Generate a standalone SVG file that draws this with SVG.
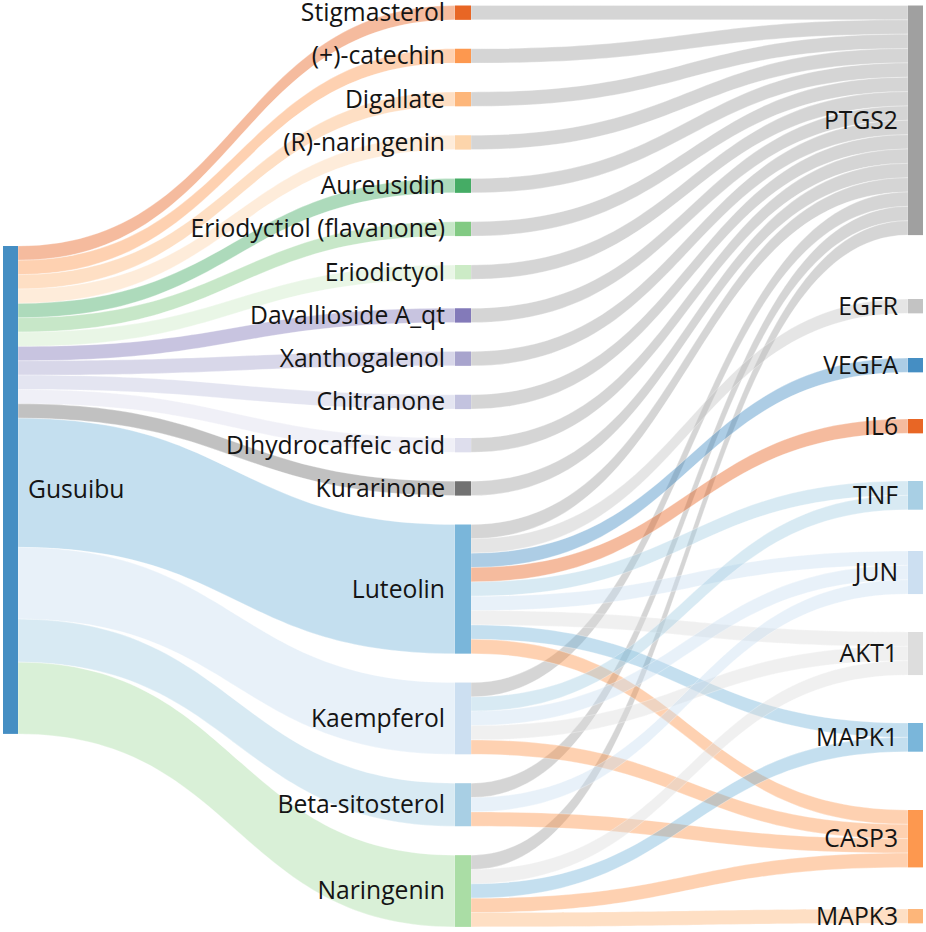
<svg xmlns="http://www.w3.org/2000/svg" width="926" height="932" viewBox="0 0 926 932">
<style>
.l{fill-opacity:.4;stroke:#fff;stroke-width:.5;stroke-opacity:.6}
.n{fill-opacity:.9}
text{font-family:"Open Sans","Noto Sans","DejaVu Sans",sans-serif;font-size:24.7px;fill:#141414}
.e{text-anchor:end}
</style>
<rect width="926" height="932" fill="#fff"/>
<g id="links">
<path class="l" fill="#e6550d" d="M18,246C236.5,246 236.5,5.5 455,5.5L455,19.85C236.5,19.85 236.5,260.35 18,260.35Z"/>
<path class="l" fill="#fd8d3c" d="M18,260.35C236.5,260.35 236.5,48.75 455,48.75L455,63.1C236.5,63.1 236.5,274.7 18,274.7Z"/>
<path class="l" fill="#fdae6b" d="M18,274.7C236.5,274.7 236.5,92 455,92L455,106.35C236.5,106.35 236.5,289.05 18,289.05Z"/>
<path class="l" fill="#fdd0a2" d="M18,289.05C236.5,289.05 236.5,135.25 455,135.25L455,149.6C236.5,149.6 236.5,303.4 18,303.4Z"/>
<path class="l" fill="#31a354" d="M18,303.4C236.5,303.4 236.5,178.5 455,178.5L455,192.85C236.5,192.85 236.5,317.75 18,317.75Z"/>
<path class="l" fill="#74c476" d="M18,317.75C236.5,317.75 236.5,221.75 455,221.75L455,236.1C236.5,236.1 236.5,332.1 18,332.1Z"/>
<path class="l" fill="#c7e9c0" d="M18,332.1C236.5,332.1 236.5,265 455,265L455,279.35C236.5,279.35 236.5,346.45 18,346.45Z"/>
<path class="l" fill="#756bb1" d="M18,346.45C236.5,346.45 236.5,308.25 455,308.25L455,322.6C236.5,322.6 236.5,360.8 18,360.8Z"/>
<path class="l" fill="#9e9ac8" d="M18,360.8C236.5,360.8 236.5,351.5 455,351.5L455,365.85C236.5,365.85 236.5,375.15 18,375.15Z"/>
<path class="l" fill="#bcbddc" d="M18,375.15C236.5,375.15 236.5,394.75 455,394.75L455,409.1C236.5,409.1 236.5,389.5 18,389.5Z"/>
<path class="l" fill="#dadaeb" d="M18,389.5C236.5,389.5 236.5,438 455,438L455,452.35C236.5,452.35 236.5,403.85 18,403.85Z"/>
<path class="l" fill="#636363" d="M18,403.85C236.5,403.85 236.5,481.25 455,481.25L455,495.6C236.5,495.6 236.5,418.2 18,418.2Z"/>
<path class="l" fill="#6baed6" d="M18,418.2C236.5,418.2 236.5,524.5 455,524.5L455,653.65C236.5,653.65 236.5,547.35 18,547.35Z"/>
<path class="l" fill="#c6dbef" d="M18,547.35C236.5,547.35 236.5,682.55 455,682.55L455,754.3C236.5,754.3 236.5,619.1 18,619.1Z"/>
<path class="l" fill="#9ecae1" d="M18,619.1C236.5,619.1 236.5,783.2 455,783.2L455,826.25C236.5,826.25 236.5,662.15 18,662.15Z"/>
<path class="l" fill="#a1d99b" d="M18,662.15C236.5,662.15 236.5,855.15 455,855.15L455,926.9C236.5,926.9 236.5,733.9 18,733.9Z"/>

<path class="l" fill="#969696" d="M471,5.5C689.5,5.5 689.5,5.5 908,5.5L908,19.85C689.5,19.85 689.5,19.85 471,19.85Z"/>
<path class="l" fill="#969696" d="M471,48.75C689.5,48.75 689.5,19.85 908,19.85L908,34.2C689.5,34.2 689.5,63.1 471,63.1Z"/>
<path class="l" fill="#969696" d="M471,92C689.5,92 689.5,34.2 908,34.2L908,48.55C689.5,48.55 689.5,106.35 471,106.35Z"/>
<path class="l" fill="#969696" d="M471,135.25C689.5,135.25 689.5,48.55 908,48.55L908,62.9C689.5,62.9 689.5,149.6 471,149.6Z"/>
<path class="l" fill="#969696" d="M471,178.5C689.5,178.5 689.5,62.9 908,62.9L908,77.25C689.5,77.25 689.5,192.85 471,192.85Z"/>
<path class="l" fill="#969696" d="M471,221.75C689.5,221.75 689.5,77.25 908,77.25L908,91.6C689.5,91.6 689.5,236.1 471,236.1Z"/>
<path class="l" fill="#969696" d="M471,265C689.5,265 689.5,91.6 908,91.6L908,105.95C689.5,105.95 689.5,279.35 471,279.35Z"/>
<path class="l" fill="#969696" d="M471,308.25C689.5,308.25 689.5,105.95 908,105.95L908,120.3C689.5,120.3 689.5,322.6 471,322.6Z"/>
<path class="l" fill="#969696" d="M471,351.5C689.5,351.5 689.5,120.3 908,120.3L908,134.65C689.5,134.65 689.5,365.85 471,365.85Z"/>
<path class="l" fill="#969696" d="M471,394.75C689.5,394.75 689.5,134.65 908,134.65L908,149C689.5,149 689.5,409.1 471,409.1Z"/>
<path class="l" fill="#969696" d="M471,438C689.5,438 689.5,149 908,149L908,163.35C689.5,163.35 689.5,452.35 471,452.35Z"/>
<path class="l" fill="#969696" d="M471,481.25C689.5,481.25 689.5,163.35 908,163.35L908,177.7C689.5,177.7 689.5,495.6 471,495.6Z"/>
<path class="l" fill="#969696" d="M471,524.5C689.5,524.5 689.5,177.7 908,177.7L908,192.05C689.5,192.05 689.5,538.85 471,538.85Z"/>
<path class="l" fill="#969696" d="M471,682.55C689.5,682.55 689.5,192.05 908,192.05L908,206.4C689.5,206.4 689.5,696.9 471,696.9Z"/>
<path class="l" fill="#969696" d="M471,783.2C689.5,783.2 689.5,206.4 908,206.4L908,220.75C689.5,220.75 689.5,797.55 471,797.55Z"/>
<path class="l" fill="#969696" d="M471,855.15C689.5,855.15 689.5,220.75 908,220.75L908,235.1C689.5,235.1 689.5,869.5 471,869.5Z"/>

<path class="l" fill="#bdbdbd" d="M471,538.85C689.5,538.85 689.5,299 908,299L908,313.35C689.5,313.35 689.5,553.2 471,553.2Z"/>
<path class="l" fill="#3182bd" d="M471,553.2C689.5,553.2 689.5,358 908,358L908,372.35C689.5,372.35 689.5,567.55 471,567.55Z"/>
<path class="l" fill="#e6550d" d="M471,567.55C689.5,567.55 689.5,419 908,419L908,433.35C689.5,433.35 689.5,581.9 471,581.9Z"/>
<path class="l" fill="#9ecae1" d="M471,581.9C689.5,581.9 689.5,481 908,481L908,495.35C689.5,495.35 689.5,596.25 471,596.25Z"/>
<path class="l" fill="#c6dbef" d="M471,596.25C689.5,596.25 689.5,551 908,551L908,565.35C689.5,565.35 689.5,610.6 471,610.6Z"/>
<path class="l" fill="#d9d9d9" d="M471,610.6C689.5,610.6 689.5,632 908,632L908,646.35C689.5,646.35 689.5,624.95 471,624.95Z"/>
<path class="l" fill="#6baed6" d="M471,624.95C689.5,624.95 689.5,723 908,723L908,737.35C689.5,737.35 689.5,639.3 471,639.3Z"/>
<path class="l" fill="#fd8d3c" d="M471,639.3C689.5,639.3 689.5,810 908,810L908,824.35C689.5,824.35 689.5,653.65 471,653.65Z"/>

<path class="l" fill="#9ecae1" d="M471,696.9C689.5,696.9 689.5,495.35 908,495.35L908,509.7C689.5,509.7 689.5,711.25 471,711.25Z"/>
<path class="l" fill="#c6dbef" d="M471,711.25C689.5,711.25 689.5,565.35 908,565.35L908,579.7C689.5,579.7 689.5,725.6 471,725.6Z"/>
<path class="l" fill="#d9d9d9" d="M471,725.6C689.5,725.6 689.5,646.35 908,646.35L908,660.7C689.5,660.7 689.5,739.95 471,739.95Z"/>
<path class="l" fill="#fd8d3c" d="M471,739.95C689.5,739.95 689.5,824.35 908,824.35L908,838.7C689.5,838.7 689.5,754.3 471,754.3Z"/>

<path class="l" fill="#c6dbef" d="M471,797.55C689.5,797.55 689.5,579.7 908,579.7L908,594.05C689.5,594.05 689.5,811.9 471,811.9Z"/>
<path class="l" fill="#fd8d3c" d="M471,811.9C689.5,811.9 689.5,838.7 908,838.7L908,853.05C689.5,853.05 689.5,826.25 471,826.25Z"/>

<path class="l" fill="#d9d9d9" d="M471,869.5C689.5,869.5 689.5,660.7 908,660.7L908,675.05C689.5,675.05 689.5,883.85 471,883.85Z"/>
<path class="l" fill="#6baed6" d="M471,883.85C689.5,883.85 689.5,737.35 908,737.35L908,751.7C689.5,751.7 689.5,898.2 471,898.2Z"/>
<path class="l" fill="#fd8d3c" d="M471,898.2C689.5,898.2 689.5,853.05 908,853.05L908,867.4C689.5,867.4 689.5,912.55 471,912.55Z"/>
<path class="l" fill="#fdae6b" d="M471,912.55C689.5,912.55 689.5,909 908,909L908,923.35C689.5,923.35 689.5,926.9 471,926.9Z"/>
</g>

<g id="n-gusuibu"><rect class="n" x="3" y="246" width="15" height="487.9" fill="#3182bd"/><text x="28" y="498.4">Gusuibu</text></g>

<g id="n-stigmasterol"><rect class="n" x="455" y="5.5" width="16" height="14.35" fill="#e6550d"/><text class="e" x="445" y="21.1">Stigmasterol</text></g>
<g id="n-catechin"><rect class="n" x="455" y="48.75" width="16" height="14.35" fill="#fd8d3c"/><text class="e" x="445" y="64.3">(+)-catechin</text></g>
<g id="n-digallate"><rect class="n" x="455" y="92" width="16" height="14.35" fill="#fdae6b"/><text class="e" x="445" y="107.6">Digallate</text></g>
<g id="n-rnaringenin"><rect class="n" x="455" y="135.25" width="16" height="14.35" fill="#fdd0a2"/><text class="e" x="445" y="150.8">(R)-naringenin</text></g>
<g id="n-aureusidin"><rect class="n" x="455" y="178.5" width="16" height="14.35" fill="#31a354"/><text class="e" x="445" y="194.1">Aureusidin</text></g>
<g id="n-eriodyctiol"><rect class="n" x="455" y="221.75" width="16" height="14.35" fill="#74c476"/><text class="e" x="445" y="237.3">Eriodyctiol (flavanone)</text></g>
<g id="n-eriodictyol"><rect class="n" x="455" y="265" width="16" height="14.35" fill="#c7e9c0"/><text class="e" x="445" y="280.6">Eriodictyol</text></g>
<g id="n-davallioside"><rect class="n" x="455" y="308.25" width="16" height="14.35" fill="#756bb1"/><text class="e" x="445" y="323.8">Davallioside A_qt</text></g>
<g id="n-xanthogalenol"><rect class="n" x="455" y="351.5" width="16" height="14.35" fill="#9e9ac8"/><text class="e" x="445" y="367.1">Xanthogalenol</text></g>
<g id="n-chitranone"><rect class="n" x="455" y="394.75" width="16" height="14.35" fill="#bcbddc"/><text class="e" x="445" y="410.3">Chitranone</text></g>
<g id="n-dihydrocaffeic"><rect class="n" x="455" y="438" width="16" height="14.35" fill="#dadaeb"/><text class="e" x="445" y="453.6">Dihydrocaffeic acid</text></g>
<g id="n-kurarinone"><rect class="n" x="455" y="481.25" width="16" height="14.35" fill="#636363"/><text class="e" x="445" y="496.8">Kurarinone</text></g>
<g id="n-luteolin"><rect class="n" x="455" y="524.5" width="16" height="129.15" fill="#6baed6"/><text class="e" x="445" y="597.5">Luteolin</text></g>
<g id="n-kaempferol"><rect class="n" x="455" y="682.55" width="16" height="71.75" fill="#c6dbef"/><text class="e" x="445" y="726.8">Kaempferol</text></g>
<g id="n-betasitosterol"><rect class="n" x="455" y="783.2" width="16" height="43.05" fill="#9ecae1"/><text class="e" x="445" y="813.1">Beta-sitosterol</text></g>
<g id="n-naringenin"><rect class="n" x="455" y="855.15" width="16" height="71.75" fill="#a1d99b"/><text class="e" x="445" y="899.4">Naringenin</text></g>

<g id="n-ptgs2"><rect class="n" x="908" y="5.5" width="15" height="229.6" fill="#969696"/><text class="e" x="898" y="128.7">PTGS2</text></g>
<g id="n-egfr"><rect class="n" x="908" y="299" width="15" height="14.35" fill="#bdbdbd"/><text class="e" x="898" y="314.6">EGFR</text></g>
<g id="n-vegfa"><rect class="n" x="908" y="358" width="15" height="14.35" fill="#3182bd"/><text class="e" x="898" y="373.6">VEGFA</text></g>
<g id="n-il6"><rect class="n" x="908" y="419" width="15" height="14.35" fill="#e6550d"/><text class="e" x="898" y="434.6">IL6</text></g>
<g id="n-tnf"><rect class="n" x="908" y="481" width="15" height="28.7" fill="#9ecae1"/><text class="e" x="898" y="503.8">TNF</text></g>
<g id="n-jun"><rect class="n" x="908" y="551" width="15" height="43.05" fill="#c6dbef"/><text class="e" x="898" y="580.9">JUN</text></g>
<g id="n-akt1"><rect class="n" x="908" y="632" width="15" height="43.05" fill="#d9d9d9"/><text class="e" x="898" y="661.9">AKT1</text></g>
<g id="n-mapk1"><rect class="n" x="908" y="723" width="15" height="28.7" fill="#6baed6"/><text class="e" x="898" y="745.8">MAPK1</text></g>
<g id="n-casp3"><rect class="n" x="908" y="810" width="15" height="57.4" fill="#fd8d3c"/><text class="e" x="898" y="847.1">CASP3</text></g>
<g id="n-mapk3"><rect class="n" x="908" y="909" width="15" height="14.35" fill="#fdae6b"/><text class="e" x="898" y="924.6">MAPK3</text></g>
</svg>
